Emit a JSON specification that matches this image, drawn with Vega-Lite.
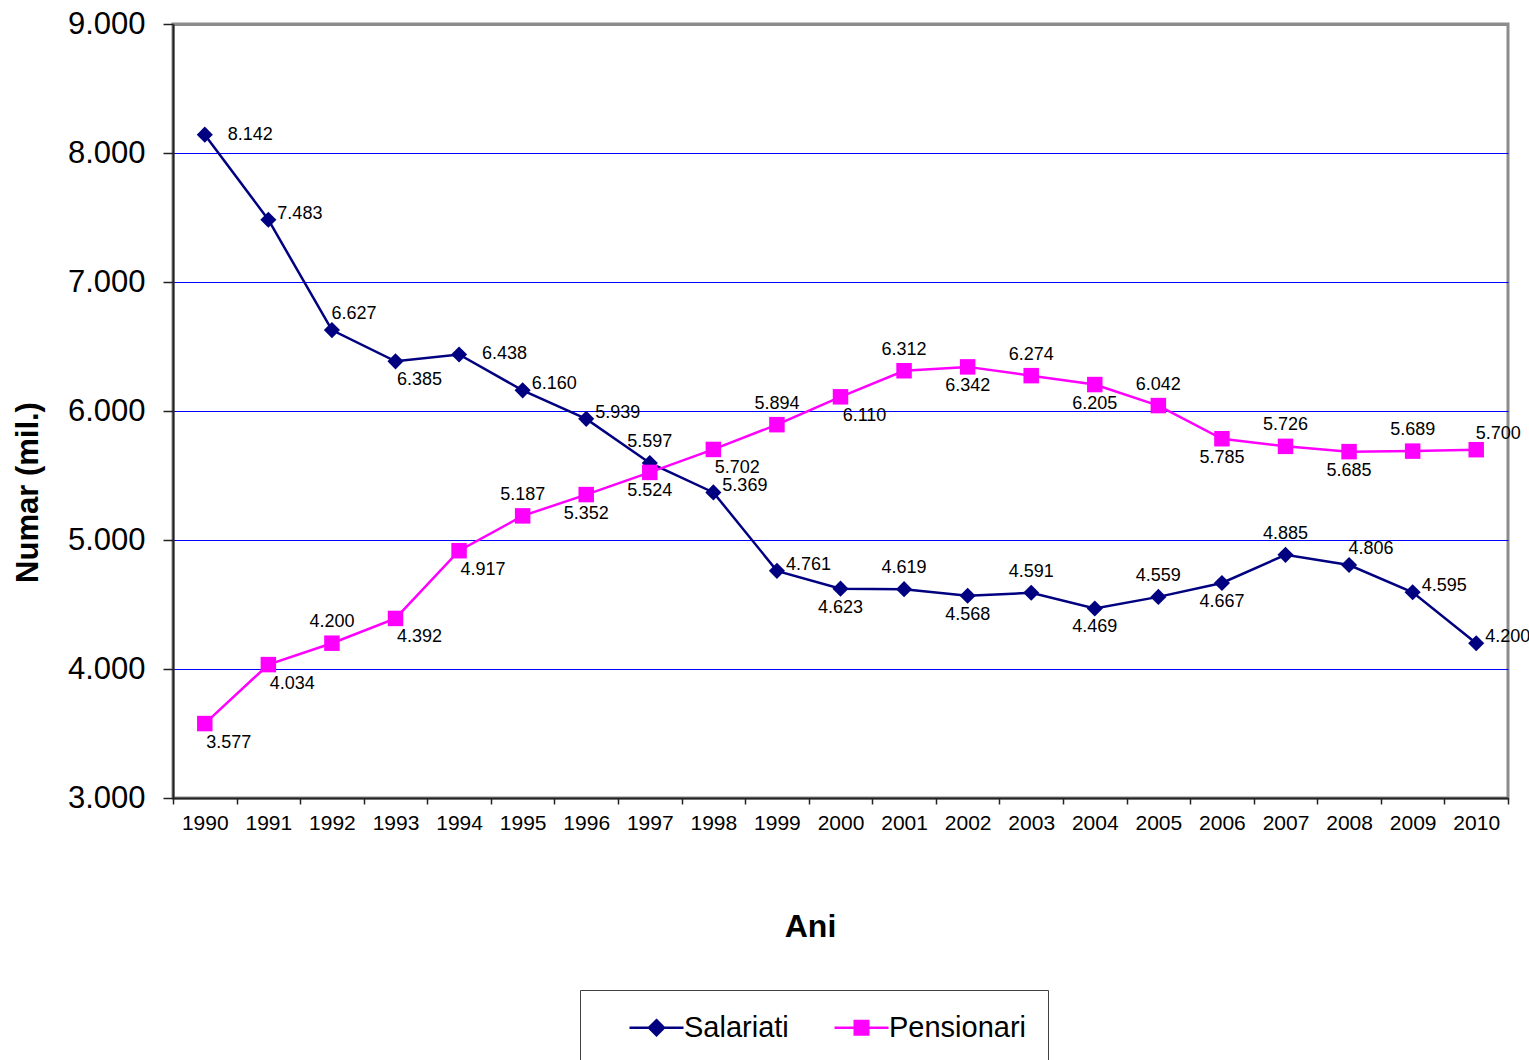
{
  "$schema": "https://vega.github.io/schema/vega-lite/v6.json",
  "autosize": {"type": "none"},
  "width": 1335,
  "height": 774,
  "padding": {"left": 173, "top": 24, "right": 21, "bottom": 262},
  "background": "white",
  "config": {
    "locale": {"number": {"decimal": ",", "thousands": ".", "grouping": [3], "currency": ["", ""]}},
    "font": "Liberation Sans",
    "view": {"stroke": "#8c8c8c", "strokeWidth": 3}
  },
  "data": {"values": [
    {"year": "1990", "series": "Salariati", "value": 8142, "pos": "farright"},
    {"year": "1991", "series": "Salariati", "value": 7483, "pos": "right"},
    {"year": "1992", "series": "Salariati", "value": 6627, "pos": "aboveright"},
    {"year": "1993", "series": "Salariati", "value": 6385, "pos": "belowright"},
    {"year": "1994", "series": "Salariati", "value": 6438, "pos": "farright"},
    {"year": "1995", "series": "Salariati", "value": 6160, "pos": "right"},
    {"year": "1996", "series": "Salariati", "value": 5939, "pos": "right"},
    {"year": "1997", "series": "Salariati", "value": 5597, "pos": "above"},
    {"year": "1998", "series": "Salariati", "value": 5369, "pos": "right"},
    {"year": "1999", "series": "Salariati", "value": 4761, "pos": "right"},
    {"year": "2000", "series": "Salariati", "value": 4623, "pos": "below"},
    {"year": "2001", "series": "Salariati", "value": 4619, "pos": "above"},
    {"year": "2002", "series": "Salariati", "value": 4568, "pos": "below"},
    {"year": "2003", "series": "Salariati", "value": 4591, "pos": "above"},
    {"year": "2004", "series": "Salariati", "value": 4469, "pos": "below"},
    {"year": "2005", "series": "Salariati", "value": 4559, "pos": "above"},
    {"year": "2006", "series": "Salariati", "value": 4667, "pos": "below"},
    {"year": "2007", "series": "Salariati", "value": 4885, "pos": "above"},
    {"year": "2008", "series": "Salariati", "value": 4806, "pos": "aboveright"},
    {"year": "2009", "series": "Salariati", "value": 4595, "pos": "right"},
    {"year": "2010", "series": "Salariati", "value": 4200, "pos": "right"},
    {"year": "1990", "series": "Pensionari", "value": 3577, "pos": "belowright"},
    {"year": "1991", "series": "Pensionari", "value": 4034, "pos": "belowright"},
    {"year": "1992", "series": "Pensionari", "value": 4200, "pos": "above"},
    {"year": "1993", "series": "Pensionari", "value": 4392, "pos": "belowright"},
    {"year": "1994", "series": "Pensionari", "value": 4917, "pos": "belowright"},
    {"year": "1995", "series": "Pensionari", "value": 5187, "pos": "above"},
    {"year": "1996", "series": "Pensionari", "value": 5352, "pos": "below"},
    {"year": "1997", "series": "Pensionari", "value": 5524, "pos": "below"},
    {"year": "1998", "series": "Pensionari", "value": 5702, "pos": "belowright"},
    {"year": "1999", "series": "Pensionari", "value": 5894, "pos": "above"},
    {"year": "2000", "series": "Pensionari", "value": 6110, "pos": "belowright"},
    {"year": "2001", "series": "Pensionari", "value": 6312, "pos": "above"},
    {"year": "2002", "series": "Pensionari", "value": 6342, "pos": "below"},
    {"year": "2003", "series": "Pensionari", "value": 6274, "pos": "above"},
    {"year": "2004", "series": "Pensionari", "value": 6205, "pos": "below"},
    {"year": "2005", "series": "Pensionari", "value": 6042, "pos": "above"},
    {"year": "2006", "series": "Pensionari", "value": 5785, "pos": "below"},
    {"year": "2007", "series": "Pensionari", "value": 5726, "pos": "above"},
    {"year": "2008", "series": "Pensionari", "value": 5685, "pos": "below"},
    {"year": "2009", "series": "Pensionari", "value": 5689, "pos": "above"},
    {"year": "2010", "series": "Pensionari", "value": 5700, "pos": "aboveright"}
  ]},
  "encoding": {
    "x": {
      "field": "year", "type": "ordinal", "bandPosition": 0.5,
      "scale": {"type": "band", "paddingInner": 0, "paddingOuter": 0},
      "axis": {
        "title": "Ani", "titleFontSize": 32, "titleFontWeight": "bold", "titleColor": "black",
        "titleX": 637, "titleY": 128, "titleBaseline": "middle",
        "labelAngle": 0, "labelFontSize": 21, "labelColor": "black", "labelPadding": 8,
        "tickBand": "extent", "tickSize": 6, "tickColor": "#222222", "tickWidth": 1.5,
        "domainColor": "#222222", "domainWidth": 2, "grid": false
      }
    },
    "y": {
      "field": "value", "type": "quantitative",
      "scale": {"domain": [3000, 9000], "nice": false, "zero": false},
      "axis": {
        "title": "Numar (mil.)", "titleFontSize": 31, "titleFontWeight": "bold", "titleColor": "black",
        "titleX": -145, "titleY": 468, "titleBaseline": "middle", "titleAngle": -90,
        "values": [3000, 4000, 5000, 6000, 7000, 8000, 9000], "format": ",d",
        "labelFontSize": 31, "labelColor": "black", "labelPadding": 18,
        "tickSize": 10, "tickColor": "#222222", "tickWidth": 1.5,
        "domainColor": "#222222", "domainWidth": 2,
        "grid": true,
        "gridColor": {"condition": {"test": "datum.value === 9000", "value": "#8c8c8c"}, "value": "#0000ff"},
        "gridWidth": {"condition": {"test": "datum.value === 9000", "value": 3}, "value": 1}
      }
    }
  },
  "layer": [
    {
      "mark": {"type": "line", "strokeWidth": 2.5},
      "encoding": {
        "color": {
          "field": "series", "type": "nominal",
          "scale": {"domain": ["Salariati", "Pensionari"], "range": ["#000080", "#ff00ff"]},
          "legend": {
            "title": null, "orient": "none", "direction": "horizontal",
            "legendX": 407, "legendY": 966,
            "padding": 21, "columnPadding": 17,
            "strokeColor": "#404040", "fillColor": "white",
            "labelFontSize": 29, "labelColor": "black", "labelOffset": 11,
            "symbolSize": 900, "symbolOffset": 39, "symbolStrokeWidth": 2.5,
            "encode": {
              "symbols": {"update": {
                "shape": {"signal": "datum.value === 'Salariati' ? 'M-1.8,0L1.8,0M0,-0.5L0.5,0L0,0.5L-0.5,0Z' : 'M-1.8,0L1.8,0M-0.45,-0.45L0.45,-0.45L0.45,0.45L-0.45,0.45Z'"},
                "fill": {"signal": "datum.value === 'Salariati' ? '#000080' : '#ff00ff'"},
                "stroke": {"signal": "datum.value === 'Salariati' ? '#000080' : '#ff00ff'"},
                "strokeWidth": {"value": 2.5},
                "opacity": {"value": 1}
              }}
            }
          }
        }
      }
    },
    {
      "transform": [{"filter": "datum.series === 'Salariati'"}],
      "mark": {"type": "point", "filled": true, "opacity": 1, "size": 260, "shape": "diamond", "color": "#000080"}
    },
    {
      "transform": [{"filter": "datum.series === 'Pensionari'"}],
      "mark": {"type": "point", "filled": true, "opacity": 1, "size": 240, "shape": "square", "color": "#ff00ff"}
    },
    {
      "transform": [{"filter": "datum.pos === 'right'"}],
      "mark": {"type": "text", "align": "left", "baseline": "middle", "dx": 9, "dy": -6, "fontSize": 18, "color": "black"},
      "encoding": {"text": {"field": "value", "type": "quantitative", "format": ",d"}}
    },
    {
      "transform": [{"filter": "datum.pos === 'farright'"}],
      "mark": {"type": "text", "align": "left", "baseline": "middle", "dx": 23, "dy": 0, "fontSize": 18, "color": "black"},
      "encoding": {"text": {"field": "value", "type": "quantitative", "format": ",d"}}
    },
    {
      "transform": [{"filter": "datum.pos === 'above'"}],
      "mark": {"type": "text", "align": "center", "baseline": "middle", "dx": 0, "dy": -21, "fontSize": 18, "color": "black"},
      "encoding": {"text": {"field": "value", "type": "quantitative", "format": ",d"}}
    },
    {
      "transform": [{"filter": "datum.pos === 'below'"}],
      "mark": {"type": "text", "align": "center", "baseline": "middle", "dx": 0, "dy": 19, "fontSize": 18, "color": "black"},
      "encoding": {"text": {"field": "value", "type": "quantitative", "format": ",d"}}
    },
    {
      "transform": [{"filter": "datum.pos === 'aboveright'"}],
      "mark": {"type": "text", "align": "center", "baseline": "middle", "dx": 22, "dy": -16, "fontSize": 18, "color": "black"},
      "encoding": {"text": {"field": "value", "type": "quantitative", "format": ",d"}}
    },
    {
      "transform": [{"filter": "datum.pos === 'belowright'"}],
      "mark": {"type": "text", "align": "center", "baseline": "middle", "dx": 24, "dy": 19, "fontSize": 18, "color": "black"},
      "encoding": {"text": {"field": "value", "type": "quantitative", "format": ",d"}}
    }
  ]
}
